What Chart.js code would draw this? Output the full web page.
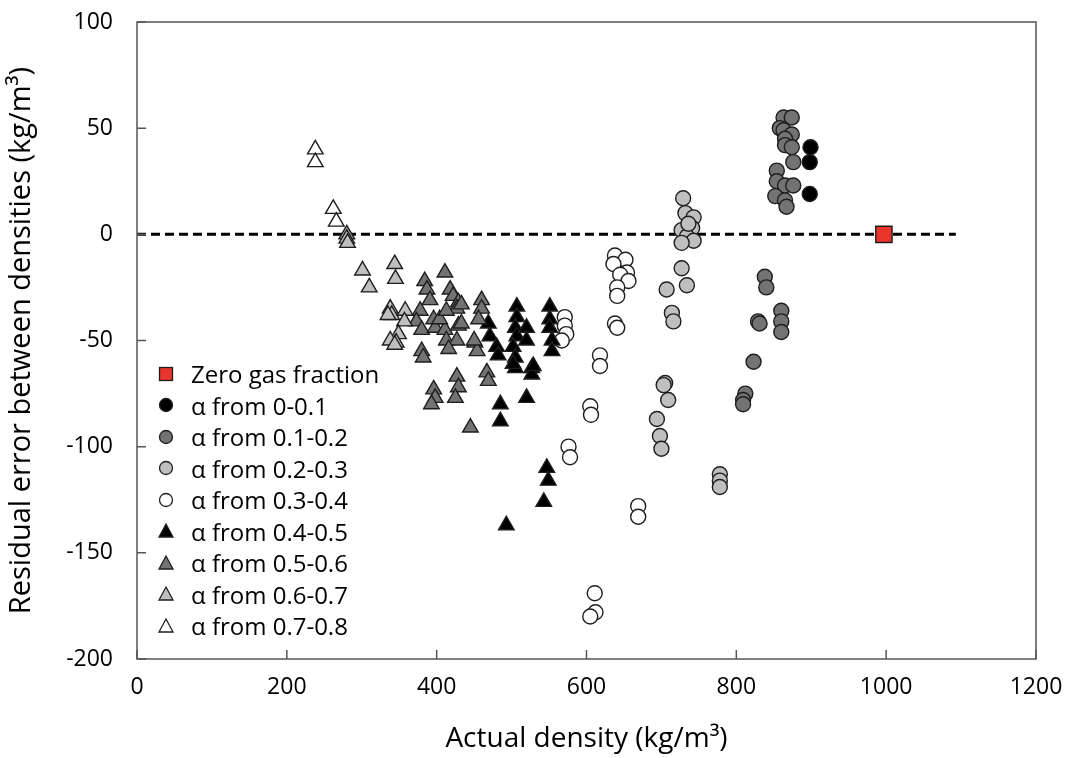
<!DOCTYPE html>
<html>
<head>
<meta charset="utf-8">
<script src="https://cdn.jsdelivr.net/npm/chart.js@4.4.1/dist/chart.umd.min.js"></script>
<style>
  body { margin: 0; background: #fff; }
  #wrap { position: relative; width: 1078px; height: 758px; }
  #legend { position: absolute; left: 154px; top: 358px; font-family: "Open Sans", sans-serif; font-size: 24px; color: #000; }
  #legend .row { display: flex; align-items: center; height: 31.5px; }
  #legend svg { width: 24px; height: 24px; margin-right: 13px; }
</style>
</head>
<body>
<div id="wrap">
  <canvas id="chart" width="1078" height="758"></canvas>
  <div id="legend"></div>
</div>
<script>
// density (kg/m3), residual error (kg/m3)
const zeroGas = [[997, 0]]
const alpha0_01 = [[899, 41], [898, 34], [898, 19]]
const alpha01_02 = [[863, 55], [874, 55], [858, 50], [863, 49], [874, 47], [865, 45], [865, 42], [874, 41],
  [876, 34], [854, 30], [854, 25], [865, 23], [876, 23], [852, 18], [865, 16], [867, 13],
  [838, -20], [840, -25], [829, -41], [831, -42], [860, -36], [860, -41], [860, -46],
  [823, -60], [812, -75], [809, -78], [809, -80]]
const alpha02_03 = [[729, 17], [732, 10], [743, 8], [741, 3], [727, 2], [734, -1], [743, -3], [727, -4], [736, 5],
  [727, -16], [734, -24], [707, -26], [714, -37], [716, -41], [705, -70], [703, -71], [709, -78],
  [694, -87], [698, -95], [700, -101], [778, -113], [778, -116], [778, -119]]
const alpha03_04 = [[571, -39], [571, -43], [573, -47], [567, -50], [576, -100], [578, -105], [605, -81], [606, -85],
  [618, -57], [618, -62], [638, -10], [652, -12], [636, -14], [654, -18], [645, -19], [656, -22],
  [641, -25], [641, -29], [638, -42], [641, -44], [669, -128], [669, -133], [611, -169], [612, -178], [605, -180]]
const alpha04_05 = [[469, -42], [471, -48], [480, -53], [482, -57], [507, -34], [507, -39], [505, -44], [507, -48],
  [502, -53], [505, -58], [505, -63], [520, -44], [520, -50], [527, -63], [527, -66], [551, -34],
  [551, -40], [551, -44], [554, -50], [554, -55], [485, -80], [485, -88], [520, -77], [547, -110],
  [549, -116], [543, -126], [493, -137], [502, -61], [529, -62]]
const alpha05_06 = [[384, -22], [387, -26], [391, -31], [411, -18], [418, -26], [422, -29], [429, -32], [427, -35],
  [378, -36], [373, -41], [380, -45], [396, -40], [398, -44], [411, -45], [413, -50], [429, -43],
  [427, -50], [416, -54], [380, -55], [382, -58], [451, -51], [454, -55], [460, -31], [460, -35],
  [456, -40], [396, -73], [398, -77], [393, -80], [427, -67], [429, -72], [425, -77], [467, -65],
  [469, -69], [445, -91], [404, -40], [413, -36], [433, -33], [433, -42], [450, -50]]
const alpha06_07 = [[280, 0], [280, -2], [281, -4], [301, -17], [310, -25], [344, -14], [345, -21], [338, -35],
  [340, -38], [358, -36], [357, -41], [349, -47], [346, -51], [335, -38], [338, -50], [344, -52]]
const alpha07_08 = [[238, 40], [238, 34], [262, 12], [266, 6]]

const zeroLineX = [0, 1093]
const xTicks = [0, 200, 400, 600, 800, 1000, 1200]
const yTicks = [100, 50, 0, -50, -100, -150, -200]

const FONT = '"Open Sans", sans-serif'
const EDGE = '#1e1e1e'

const pts = arr => arr.map(p => ({x: p[0], y: p[1]}))

function series(label, arr, style, fill, r){
    return {
        label: label,
        data: pts(arr),
        pointStyle: style,
        pointRadius: r,
        backgroundColor: fill,
        borderColor: EDGE,
        borderWidth: 1.4,
        showLine: false
    }
}

const datasets = [
    series('Zero gas fraction', zeroGas, 'rect', '#e8342a', 11.5),
    series('α from 0-0.1', alpha0_01, 'circle', '#000000', 7.5),
    series('α from 0.1-0.2', alpha01_02, 'circle', '#737373', 7.5),
    series('α from 0.2-0.3', alpha02_03, 'circle', '#bfbfbf', 7.5),
    series('α from 0.3-0.4', alpha03_04, 'circle', '#ffffff', 7.5),
    series('α from 0.4-0.5', alpha04_05, 'triangle', '#000000', 9),
    series('α from 0.5-0.6', alpha05_06, 'triangle', '#737373', 9),
    series('α from 0.6-0.7', alpha06_07, 'triangle', '#bfbfbf', 9),
    series('α from 0.7-0.8', alpha07_08, 'triangle', '#ffffff', 9)
]
// draw order: later circles/triangles over earlier ones
datasets.forEach((d, i) => d.order = 20 - i)
datasets[0].order = 0

datasets.push({
    type: 'line',
    label: 'zero',
    data: zeroLineX.map(x => ({x: x, y: 0})),
    borderColor: '#000',
    borderWidth: 3,
    borderDash: [9, 5],
    pointRadius: 0,
    order: 100
})

// frame + inward tick marks
const framePlugin = {
    id: 'frame',
    afterDraw(chart){
        const {ctx, chartArea: a, scales: {x, y}} = chart
        ctx.save()
        ctx.strokeStyle = '#555'
        ctx.lineWidth = 1.5
        ctx.strokeRect(a.left, a.top, a.right - a.left, a.bottom - a.top)
        ctx.beginPath()
        xTicks.forEach(v => {
            const px = x.getPixelForValue(v)
            ctx.moveTo(px, a.bottom)
            ctx.lineTo(px, a.bottom - 9)
        })
        yTicks.forEach(v => {
            const py = y.getPixelForValue(v)
            ctx.moveTo(a.left, py)
            ctx.lineTo(a.left + 9, py)
        })
        ctx.stroke()
        ctx.restore()
    }
}

new Chart(document.getElementById('chart'), {
    type: 'scatter',
    data: {datasets: datasets},
    options: {
        responsive: false,
        animation: false,
        layout: {padding: {top: 22, right: 42, left: 0, bottom: 0}},
        plugins: {legend: {display: false}, tooltip: {enabled: false}},
        scales: {
            x: {
                type: 'linear', min: 0, max: 1200,
                afterBuildTicks: s => { s.ticks = xTicks.map(v => ({value: v})) },
                afterFit: s => { s.height = 99 },
                grid: {display: false, drawTicks: false},
                border: {display: false},
                ticks: {color: '#000', font: {family: FONT, size: 23}, padding: 15, callback: v => String(v)},
                title: {display: true, text: 'Actual density (kg/m³)', color: '#000',
                    font: {family: FONT, size: 28}, padding: {top: 0, bottom: 2}}
            },
            y: {
                type: 'linear', min: -200, max: 100,
                afterBuildTicks: s => { s.ticks = yTicks.map(v => ({value: v})) },
                afterFit: s => { s.width = 137; s.paddingTop = 0; s.paddingBottom = 0 },
                grid: {display: false, drawTicks: false},
                border: {display: false},
                ticks: {color: '#000', font: {family: FONT, size: 23}, padding: 24, callback: v => String(v)},
                title: {display: true, text: 'Residual error between densities (kg/m³)', color: '#000',
                    font: {family: FONT, size: 29}, padding: {top: 4, bottom: 0}}
            }
        }
    },
    plugins: [framePlugin]
})

// legend built from the datasets
const legendBox = document.getElementById('legend')
datasets.filter(d => d.type !== 'line').forEach(d => {
    let shape
    if (d.pointStyle === 'rect') shape = '<rect x="5.5" y="5.5" width="13" height="13"/>'
    else if (d.pointStyle === 'circle') shape = '<circle cx="12" cy="12" r="6.5"/>'
    else shape = '<polygon points="12,5 19,18 5,18"/>'
    const row = document.createElement('div')
    row.className = 'row'
    row.innerHTML = '<svg viewBox="0 0 24 24"><g fill="' + d.backgroundColor + '" stroke="' + EDGE +
        '" stroke-width="1.3">' + shape + '</g></svg><span>' + d.label + '</span>'
    legendBox.appendChild(row)
})
</script>
</body>
</html>
